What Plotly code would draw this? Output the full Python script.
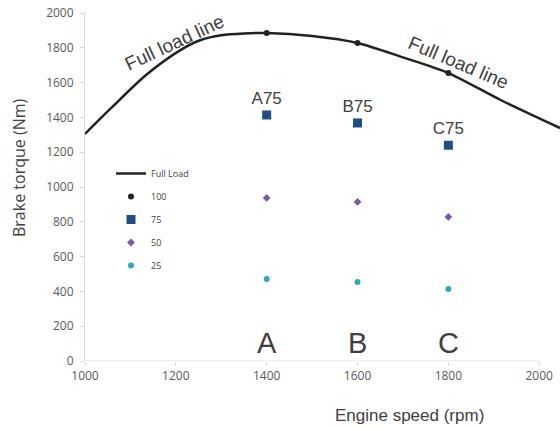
import plotly.graph_objects as go

# ---- data ----
full_rpm = [1000, 1060, 1135, 1210, 1255, 1300, 1350, 1400, 1500, 1600, 1700, 1800, 1915, 2046]
full_torque = [1305, 1460, 1645, 1787, 1845, 1872, 1882, 1885, 1868, 1828, 1745, 1655, 1500, 1339]

points_rpm = [1400, 1600, 1800]
load_100 = [1885, 1828, 1655]
load_75 = [1414, 1368, 1240]
load_50 = [937, 914, 828]
load_25 = [471, 454, 414]
labels_75 = ["A75", "B75", "C75"]
point_names = ["A", "B", "C"]

x_ticks = [1000, 1200, 1400, 1600, 1800, 2000]
y_ticks = [0, 200, 400, 600, 800, 1000, 1200, 1400, 1600, 1800, 2000]

TXT = "#404040"
TICK = "#595959"

fig = go.Figure()
fig.add_trace(go.Scatter(x=full_rpm, y=full_torque, mode="lines", name="Full Load",
                         line=dict(color="#222222", width=2.5, shape="spline", smoothing=0.8),
                         legendgroup="g0"))
fig.add_trace(go.Scatter(x=points_rpm, y=load_100, mode="markers", name="100",
                         marker=dict(color="#222222", size=6, symbol="circle"),
                         legendgroup="g1"))
fig.add_trace(go.Scatter(x=points_rpm, y=load_75, mode="markers+text", name="75",
                         marker=dict(color="#1f4e84", size=9, symbol="square"),
                         text=labels_75, textposition="top center",
                         textfont=dict(family="Liberation Sans, Arial", size=17, color=TXT),
                         legendgroup="g2"))
fig.add_trace(go.Scatter(x=points_rpm, y=load_50, mode="markers", name="50",
                         marker=dict(color="#7b57a8", size=6, symbol="diamond"),
                         legendgroup="g3"))
fig.add_trace(go.Scatter(x=points_rpm, y=load_25, mode="markers", name="25",
                         marker=dict(color="#2eaab3", size=6, symbol="circle"),
                         legendgroup="g4"))

annotations = []
for name, x in zip(point_names, points_rpm):
    annotations.append(dict(x=x, y=103, xref="x", yref="y", text=name, showarrow=False,
                            font=dict(family="Liberation Sans, Arial", size=29, color=TXT)))
annotations.append(dict(x=1197, y=1832, xref="x", yref="y", text="Full load line", showarrow=False,
                        textangle=-25, xanchor="center", yanchor="middle",
                        font=dict(family="Liberation Sans, Arial", size=19, color=TXT)))
annotations.append(dict(x=1822, y=1714, xref="x", yref="y", text="Full load line", showarrow=False,
                        textangle=23, xanchor="center", yanchor="middle",
                        font=dict(family="Liberation Sans, Arial", size=19, color=TXT)))
annotations.append(dict(x=(409 - 85) / 475, y=(361 - 415) / 348, xref="paper", yref="paper",
                        text="Engine speed (rpm)", showarrow=False, xanchor="center", yanchor="middle",
                        font=dict(family="Liberation Sans, Arial", size=17, color=TXT)))
annotations.append(dict(x=(19 - 85) / 475, y=(361 - 168) / 348, xref="paper", yref="paper",
                        text="Brake torque (Nm)", showarrow=False, textangle=-90,
                        xanchor="center", yanchor="middle",
                        font=dict(family="Open Sans", size=16, color=TXT)))

fig.update_layout(
    width=560, height=429,
    margin=dict(l=85, r=0, t=13, b=68),
    paper_bgcolor="white", plot_bgcolor="white",
    showlegend=True,
    legend=dict(x=(111 - 85) / 475, y=(361 - 159) / 348, xanchor="left", yanchor="top",
                bgcolor="rgba(0,0,0,0)", font=dict(family="Open Sans", size=9, color=TXT),
                tracegroupgap=4, itemwidth=30),
    annotations=annotations,
    xaxis=dict(range=[1000, 1000 + 475 / 0.4542], tickvals=x_ticks, showgrid=False, zeroline=False,
               showline=False, ticks="outside", ticklen=4, tickcolor="#d9d9d9", automargin=False,
               tickfont=dict(family="Open Sans", size=12, color=TICK)),
    yaxis=dict(range=[0, 2000], tickvals=y_ticks, showgrid=False, zeroline=False, automargin=False,
               showline=True, linecolor="#d9d9d9", linewidth=1, ticks="outside", ticklen=4,
               tickcolor="#d9d9d9", ticklabelstandoff=4,
               tickfont=dict(family="Open Sans", size=12, color=TICK)),
    shapes=[dict(type="line", xref="x", yref="y", x0=1000, x1=2000, y0=0, y1=0,
                 line=dict(color="#d9d9d9", width=1), layer="below")],
)

fig.write_html("out.html", config={"displayModeBar": False},
               post_script="document.body.style.margin='0';document.body.style.overflow='hidden';")
